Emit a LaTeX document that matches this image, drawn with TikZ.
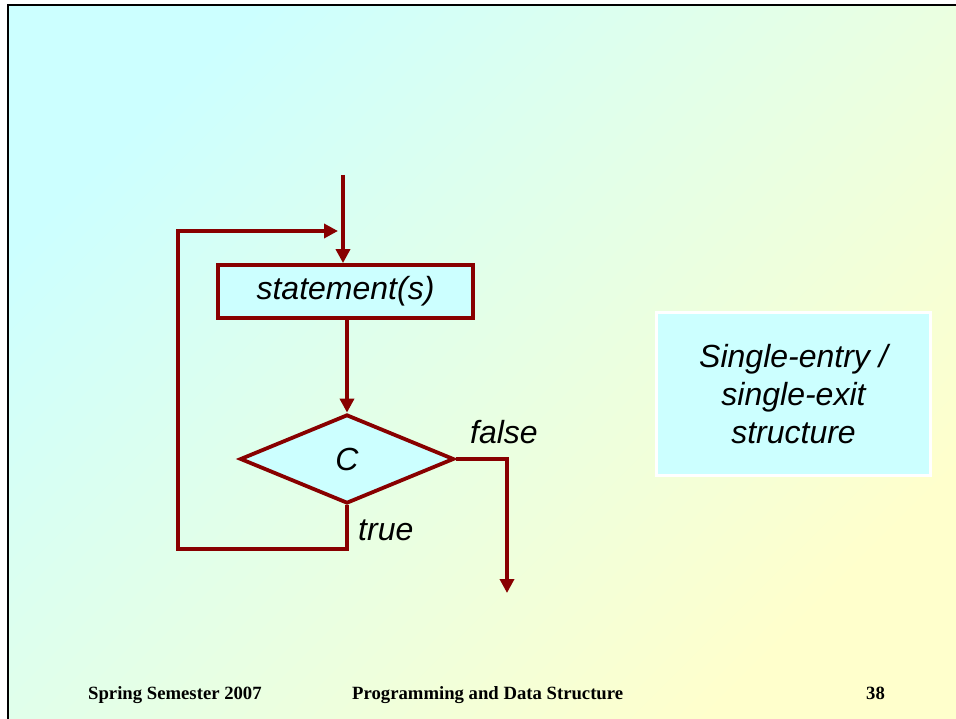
\documentclass[tikz,border=0pt]{standalone}
\usepackage{fontspec}
\setmainfont{Liberation Serif}
\setsansfont{Liberation Sans}
\usetikzlibrary{shapes.geometric,arrows.meta}
\definecolor{bgcyan}{HTML}{CCFFFF}
\definecolor{bgyellow}{HTML}{FFFFCC}
\definecolor{flowred}{HTML}{880000}
\definecolor{boxfill}{HTML}{CCFFFF}
\tikzset{
  bigfont/.style={font=\sffamily\itshape\fontsize{32}{38}\selectfont},
  flowline/.style={draw=flowred, line width=3.8pt},
  flowarrow/.style={flowline, -{Triangle[length=14pt,width=14pt]}},
  procbox/.style={flowline, fill=boxfill, rectangle, minimum width=255pt, minimum height=53pt, inner sep=0pt, bigfont},
  decbox/.style={flowline, fill=boxfill, diamond, minimum width=214pt, minimum height=89pt, inner sep=0pt, bigfont},
  lbl/.style={bigfont, anchor=base west, inner sep=0pt},
  notebox/.style={draw=white, line width=3.5pt, fill=boxfill, minimum width=274pt, minimum height=163pt, align=center, inner sep=0pt, bigfont},
  footer/.style={font=\bfseries\fontsize{18.7}{22}\selectfont, anchor=base west, inner sep=0pt}
}
\begin{document}
\begin{tikzpicture}[x=1pt,y=-1pt]
\useasboundingbox (0,0) rectangle (956,719);
\fill[white] (0,0) rectangle (956,719);
\shade[top color=bgcyan, bottom color=bgyellow, shading angle=45] (8,5) rectangle (956,719);
\draw[line width=2.5pt, black] (956,5) -- (8,5) -- (8,719);

% flowchart
\node[procbox] (stmt) at (345.5,291.5) {statement(s)};
\node[decbox] (cond) at (347,459) {C};
\coordinate (topin) at (343,175);
\coordinate (exit) at (507,593);
\coordinate (loopbl) at (178,549);
\coordinate (looptip) at (338,231);

\draw[flowarrow] (topin) -- (topin |- stmt.north);
\draw[flowarrow] (cond.north |- stmt.south) -- (cond.north);
\draw[flowarrow] (cond.east) -| (exit);
\draw[flowarrow] (cond.south) |- (loopbl) |- (looptip);

\node[lbl] (lfalse) at (470,443) {false};
\node[lbl] (ltrue) at (358,540) {true};

% note box
\node[notebox] (note) at (793.5,394) {Single-entry /\\single-exit\\structure};

% footer
\node[footer] (f1) at (88,699) {Spring Semester 2007};
\node[footer] (f2) at (352,699) {Programming and Data Structure};
\node[footer] (f3) at (866,699) {38};
\end{tikzpicture}
\end{document}
